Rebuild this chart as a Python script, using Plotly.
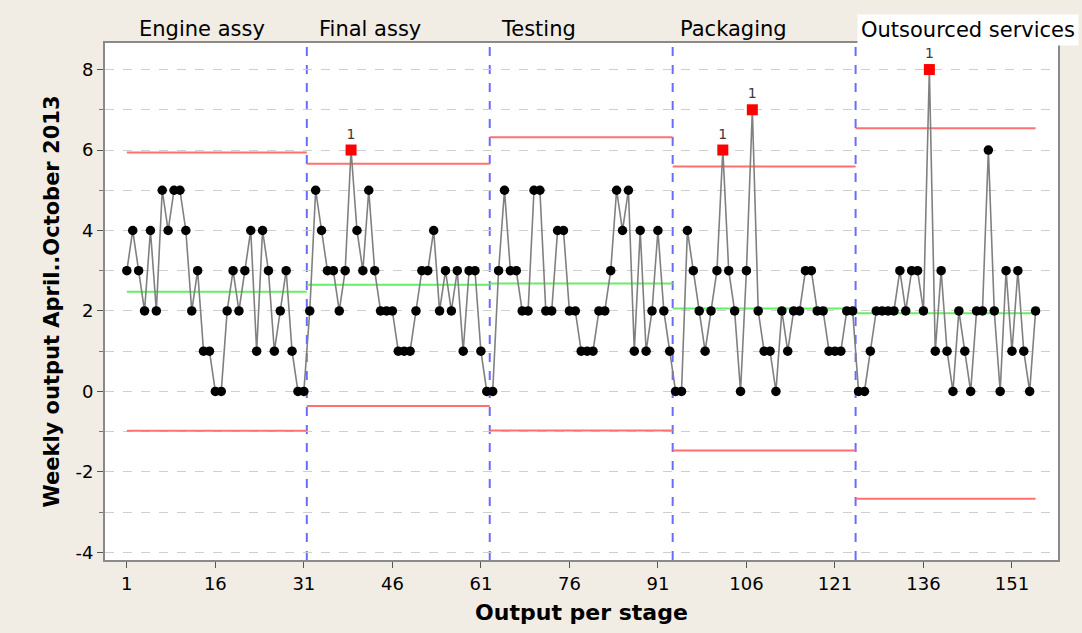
import numpy as np
import plotly.graph_objects as go

# ---- data ----
stages = ["Engine assy", "Final assy", "Testing", "Packaging", "Outsourced services"]
engine_assy = [3, 4, 3, 2, 4, 2, 5, 4, 5, 5, 4, 2, 3, 1, 1, 0, 0, 2, 3, 2, 3, 4, 1, 4, 3, 1, 2, 3, 1, 0, 0]
final_assy = [2, 5, 4, 3, 3, 2, 3, 6, 4, 3, 5, 3, 2, 2, 2, 1, 1, 1, 2, 3, 3, 4, 2, 3, 2, 3, 1, 3, 3, 1, 0]
testing = [0, 3, 5, 3, 3, 2, 2, 5, 5, 2, 2, 4, 4, 2, 2, 1, 1, 1, 2, 2, 3, 5, 4, 5, 1, 4, 1, 2, 4, 2, 1]
packaging = [0, 0, 4, 3, 2, 1, 2, 3, 6, 3, 2, 0, 3, 7, 2, 1, 1, 0, 2, 1, 2, 2, 3, 3, 2, 2, 1, 1, 1, 2, 2]
outsourced = [0, 0, 1, 2, 2, 2, 2, 3, 2, 3, 3, 2, 8, 1, 3, 1, 0, 2, 1, 0, 2, 2, 6, 2, 0, 3, 1, 3, 1, 0, 2]
center_line = [2.48, 2.65, 2.68, 2.06, 1.94]
ucl = [5.94, 5.66, 6.32, 5.59, 6.54]
lcl = [-0.98, -0.36, -0.97, -1.47, -2.67]
flagged_x = [39, 102, 107, 137]          # points beyond the control limits (test 1)
x_ticks = [1, 16, 31, 46, 61, 76, 91, 106, 121, 136, 151]
y_ticks = [-4, -2, 0, 2, 4, 6, 8]
y_tick_text = ["-4", "-2", "0", "2", "4", "6", "8"]
label_x = [2.9, 33.4, 64.3, 94.5, 124.8]

series = [engine_assy, final_assy, testing, packaging, outsourced]
values = [v for s in series for v in s]
n = len(values)
xs = list(range(1, n + 1))

FONT = "DejaVu Sans"
fig = go.Figure()

# stage boundaries
starts, ends = [], []
pos = 1
for s in series:
    starts.append(pos)
    ends.append(pos + len(s) - 1)
    pos += len(s)

# control limits and center lines
for k in range(len(series)):
    x0 = max(starts[k] - 0.5, 1)
    x1 = min(ends[k] + 0.5, n)
    for yv, col in [(ucl[k], "#ff7070"), (lcl[k], "#ff7070"), (center_line[k], "#66ee66")]:
        fig.add_trace(go.Scatter(x=[x0, x1], y=[yv, yv], mode="lines",
                                 line=dict(color=col, width=2), hoverinfo="skip",
                                 showlegend=False))

# data line with markers
fig.add_trace(go.Scatter(x=xs, y=values, mode="lines+markers",
                         line=dict(color="#808080", width=1.6),
                         marker=dict(color="black", size=9.5, symbol="circle"),
                         showlegend=False))

# flagged points
fx = flagged_x
fy = [values[i - 1] for i in fx]
fig.add_trace(go.Scatter(x=fx, y=fy, mode="markers+text",
                         marker=dict(color="#ff0000", size=11, symbol="square"),
                         text=["1"] * len(fx), textposition="top center",
                         textfont=dict(family=FONT, size=14, color="#3a3a3a"),
                         showlegend=False))

# vertical stage separators
for k in range(len(series) - 1):
    fig.add_shape(type="line", x0=ends[k] + 0.5, x1=ends[k] + 0.5, xref="x",
                  y0=0, y1=1, yref="paper", layer="below",
                  line=dict(color="#6b6bff", width=2, dash="dash"))

# stage labels
for k, name in enumerate(stages):
    last = k == len(stages) - 1
    fig.add_annotation(x=label_x[k], y=1, xref="x", yref="paper",
                       xanchor="left", yanchor="bottom", yshift=-3 if last else 1,
                       text=name, showarrow=False,
                       font=dict(family=FONT, size=21, color="black"),
                       bgcolor="white" if last else None,
                       borderpad=3 if last else 0)

fig.update_layout(
    width=1082, height=633, autosize=False,
    margin=dict(l=105, r=24, t=43, b=71),
    paper_bgcolor="#f1ede4", plot_bgcolor="white",
    font=dict(family=FONT, size=18, color="black"),
    xaxis=dict(range=[-2.7, 158.8], tickvals=x_ticks, ticks="outside", ticklen=6,
               tickcolor="#555", showgrid=False, zeroline=False,
               showline=True, linecolor="#8a8a8a", linewidth=2, mirror=True,
               tickfont=dict(size=18),
               title=dict(text="<b>Output per stage</b>", font=dict(size=22), standoff=12)),
    yaxis=dict(range=[-4.19, 8.66], tickvals=y_ticks, ticktext=y_tick_text,
               ticks="outside", ticklen=6,
               tickcolor="#555", showgrid=True, gridcolor="#cfcfcf", griddash="dash",
               gridwidth=1, zeroline=False,
               showline=True, linecolor="#8a8a8a", linewidth=2, mirror=True,
               tickfont=dict(size=18),
               minor=dict(dtick=1, tick0=0, showgrid=True, gridcolor="#cfcfcf",
                          griddash="dash", ticks="outside", ticklen=4, tickcolor="#777"),
               title=dict(text="<b>Weekly output April..October 2013</b>",
                          font=dict(size=21), standoff=10)),
)

fig.write_html("out.html", config={"displayModeBar": False},
               post_script="document.body.style.margin='0';document.body.style.background='#f1ede4';")
